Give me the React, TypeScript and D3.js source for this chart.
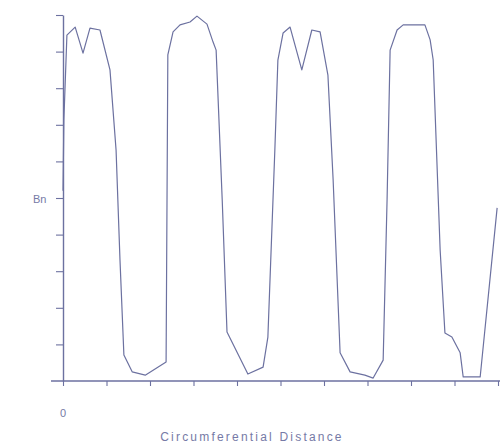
import { useEffect, useRef } from "react";
import { select, scaleLinear, axisLeft, axisBottom, line, range } from "d3";

// circumferential position (tick units) and Bn (tick units)
const distance = [
  0, 0.02, 0.09, 0.28, 0.46, 0.62, 0.85, 1.08, 1.22, 1.31, 1.4, 1.59, 1.89, 2.37,
  2.41, 2.53, 2.69, 2.92, 3.08, 3.31, 3.45, 3.52, 3.66, 3.77, 4.25, 4.6, 4.71,
  4.87, 4.94, 5.06, 5.22, 5.49, 5.72, 5.91, 6.09, 6.21, 6.37, 6.6, 6.94, 7.13,
  7.36, 7.45, 7.52, 7.68, 7.82, 8.32, 8.44, 8.51, 8.67, 8.78, 8.94, 9.13, 9.2,
  9.59, 9.98,
];
const bn = [
  5.2, 7.13, 9.45, 9.67, 8.96, 9.64, 9.59, 8.5, 6.31, 3.31, 0.71, 0.25, 0.16, 0.52,
  8.91, 9.54, 9.73, 9.81, 9.97, 9.75, 9.26, 9.04, 4.95, 1.34, 0.19, 0.38, 1.2,
  6.31, 8.77, 9.51, 9.67, 8.5, 9.59, 9.54, 8.36, 5.49, 0.77, 0.25, 0.16, 0.08,
  0.57, 4.95, 9.04, 9.59, 9.73, 9.73, 9.32, 8.77, 3.58, 1.31, 1.2, 0.77, 0.11,
  0.11, 4.73,
];
const xLabel = "Circumferential Distance";
const yLabel = "Bn";
const originLabel = "0";

const ink = "#6c71a0";
const textInk = "#767aa6";

function App() {
  const ref = useRef<SVGSVGElement>(null);

  useEffect(() => {
    const svg = select(ref.current);
    svg.selectAll("*").remove();

    const x = scaleLinear().domain([0, 10]).range([63, 498]);
    const y = scaleLinear().domain([0, 10]).range([381, 15]);

    const g = svg.append("g");

    // x axis, runs a bit left of the y axis
    g.append("line")
      .attr("x1", 51)
      .attr("x2", 500)
      .attr("y1", y(0))
      .attr("y2", y(0))
      .attr("stroke", ink)
      .attr("stroke-width", 1.4);

    const xa = g
      .append("g")
      .attr("transform", `translate(0,${y(0)})`)
      .call(axisBottom(x).tickValues(range(0, 11)).tickSize(5).tickSizeOuter(0).tickFormat(() => ""));
    xa.select(".domain").remove();
    xa.selectAll("line").attr("stroke", ink).attr("stroke-width", 1.1);

    const ya = g
      .append("g")
      .attr("transform", `translate(${x(0)},0)`)
      .call(axisLeft(y).tickValues(range(1, 11)).tickSize(7).tickSizeOuter(0).tickFormat(() => ""));
    ya.select(".domain").attr("stroke", ink).attr("stroke-width", 1.4);
    ya.selectAll("line").attr("stroke", ink).attr("stroke-width", 1.1);

    const pts: [number, number][] = distance.map((d, i) => [d, bn[i]]);
    g.append("path")
      .datum(pts)
      .attr("fill", "none")
      .attr("stroke", ink)
      .attr("stroke-width", 1.2)
      .attr("stroke-linejoin", "round")
      .attr(
        "d",
        line<[number, number]>()
          .x((d) => x(d[0]))
          .y((d) => y(d[1]))
      );

    const font = "'Liberation Sans', Arial, sans-serif";
    g.append("text")
      .attr("x", x(0))
      .attr("y", 417)
      .attr("text-anchor", "middle")
      .attr("font-family", font)
      .attr("font-size", 11)
      .attr("fill", textInk)
      .text(originLabel);

    g.append("text")
      .attr("x", 252)
      .attr("y", 441)
      .attr("text-anchor", "middle")
      .attr("font-family", font)
      .attr("font-size", 12)
      .attr("letter-spacing", 2.2)
      .attr("fill", textInk)
      .text(xLabel);

    g.append("text")
      .attr("x", 33)
      .attr("y", 203)
      .attr("font-family", font)
      .attr("font-size", 11)
      .attr("fill", textInk)
      .text(yLabel);
  }, []);

  return (
    <svg
      ref={ref}
      width={500}
      height={446}
      style={{ position: "absolute", left: 0, top: 0, background: "#fff" }}
    />
  );
}

export default App;
